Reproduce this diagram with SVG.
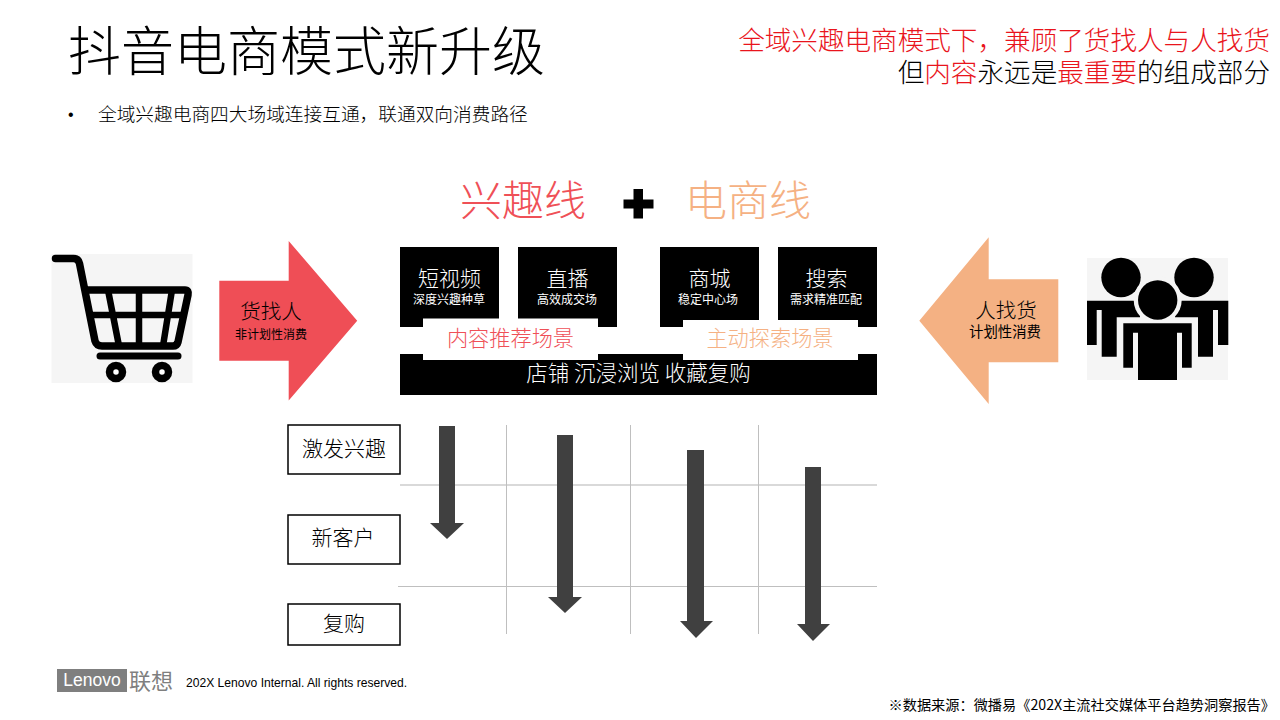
<svg xmlns="http://www.w3.org/2000/svg" width="1280" height="720" viewBox="0 0 1280 720">
<style>
text{font-family:"Noto Sans CJK SC","Liberation Sans",sans-serif;font-weight:300;fill:#000}
.m{text-anchor:middle}
.b{fill:#000}
.w{fill:#fff}
.t{fill:#fff;font-size:21px;text-anchor:middle}
.s{fill:#fff;font-size:12px;text-anchor:middle;font-weight:400}
.r{fill:#e9141c}
.g{stroke:#bfbfbf;stroke-width:1;fill:none}
.a{fill:#404040}
.lb{fill:#fff;stroke:#000;stroke-width:1.5}
.en{font-family:"Liberation Sans",sans-serif;font-weight:400}
</style>
<rect width="1280" height="720" fill="#fff"/>
<text x="68" y="71" font-size="53" id="title">抖音电商模式新升级</text>
<text x="1270" y="50" font-size="26.6" text-anchor="end" class="r">全域兴趣电商模式下，兼顾了货找人与人找货</text>
<text x="1270" y="82" font-size="26.6" text-anchor="end">但<tspan class="r">内容</tspan>永远是<tspan class="r">最重要</tspan>的组成部分</text>
<text x="68" y="120" font-size="16" class="en">•</text>
<text x="98" y="121" font-size="18.700">全域兴趣电商四大场域连接互通，联通双向消费路径</text>
<text x="523" y="216" font-size="42" class="m" style="fill:#ef5057">兴趣线</text>
<path id="plus" d="M633.500 189h9.500v10.500h10.500v9h-10.500v10h-9.500v-10h-10v-9h10z"/>
<text x="748" y="216" font-size="42" class="m" style="fill:#f5b183">电商线</text>
<g id="cart">
<rect x="51.500" y="254" width="141" height="129" fill="#f5f5f5"/>
<path d="M55.500 258.500h18q5 0 6 5L95 341q1.500 5 7 5h71q4 0 5-4l10-47q1-5-3-5H88" fill="none" stroke="#000" stroke-width="7.500" stroke-linecap="round" stroke-linejoin="round"/>
<path d="M88 315h98M108 290l11 56M139 290v56M172 290l-9 56" fill="none" stroke="#000" stroke-width="6.500"/>
<path d="M100 356h78" fill="none" stroke="#000" stroke-width="7" stroke-linecap="round"/>
<circle cx="116" cy="372" r="6.500" fill="#fff" stroke="#000" stroke-width="7.500"/>
<circle cx="162" cy="372" r="6.500" fill="#fff" stroke="#000" stroke-width="7.500"/>
</g>
<g id="push">
<path d="M219.300 280.700h69.400V241l68.500 79.700-68.500 79.700v-39.700h-69.400z" fill="#ef4e56"/>
<text x="271" y="319" font-size="20.500" class="m">货找人</text>
<text x="271" y="339" font-size="12" class="m" style="font-weight:400">非计划性消费</text>
</g>
<g id="pull">
<path d="M1058.300 279.300h-69.600v-42l-69.400 83.400 69.400 83.300v-41.700h69.600z" fill="#f4b183"/>
<text x="1006" y="318" font-size="20.500" class="m">人找货</text>
<text x="1005" y="337" font-size="14.400" class="m" style="font-weight:400">计划性消费</text>
</g>
<g id="people">
<rect x="1087" y="258" width="141" height="122" fill="#f5f5f5"/>
<circle cx="1121" cy="277.500" r="19.700"/>
<circle cx="1194" cy="277.500" r="19.700"/>
<path d="M1087 300.700H1140V317.300H1116.700V356.700H1101.700V310H1096.700V345H1087Z"/>
<path d="M1228.300 300.700H1175V317.300H1198V356.700H1213V310H1218V345H1228.300Z"/>
<circle cx="1157.700" cy="300" r="24" fill="#f5f5f5"/>
<circle cx="1157.700" cy="300" r="19.700"/>
<path d="M1123.300 323.300H1191.700V367.700H1182V332.700H1177V380H1138V332.700H1133V367.700H1123.300Z"/>
</g>
<g id="cards">
<g id="short-video"><rect x="400" y="247" width="99" height="80" class="b"/>
<text x="449.500" y="286" class="t">短视频</text>
<text x="449" y="304" class="s">深度兴趣种草</text></g>
<g id="live"><rect x="518" y="247" width="99" height="80" class="b"/>
<text x="567.500" y="286" class="t">直播</text>
<text x="567" y="304" class="s">高效成交场</text></g>
<g id="mall"><rect x="660" y="247" width="99" height="80" class="b"/>
<text x="709.500" y="286" class="t">商城</text>
<text x="708" y="304" class="s">稳定中心场</text></g>
<g id="search"><rect x="778" y="247" width="99" height="80" class="b"/>
<text x="826.500" y="286" class="t">搜索</text>
<text x="826" y="304" class="s">需求精准匹配</text></g>
<g id="shop"><rect x="400" y="354" width="477" height="41" class="b"/>
<text x="638.500" y="381" class="t" style="font-size:21.500px">店铺 沉浸浏览 收藏复购</text></g>
<g id="scene-a"><rect x="423" y="318.500" width="175" height="41.500" class="w"/>
<text x="510.500" y="346" font-size="21.200" class="m" style="fill:#ef5057">内容推荐场景</text></g>
<g id="scene-b"><rect x="683" y="320" width="175" height="40" class="w"/>
<text x="770" y="346" font-size="21.200" class="m" style="fill:#f5b183">主动探索场景</text></g>
</g>
<g id="connectors">
<path class="g" style="stroke:#d9d9d9;stroke-width:2" d="M400 485H877"/>
<path class="g" d="M398 586.500H877M506.500 425V634M630.500 425V634M758.500 425V634"/>
<path class="a" d="M439 426h16v97h9l-17 16-17-16h9z"/>
<path class="a" d="M557 435h16v162h9l-17 16-17-16h9z"/>
<path class="a" d="M687 450h17v171h9l-17 17-16-17h7z"/>
<path class="a" d="M805 467h16v157h9l-17 17-16-17h8z"/>
</g>
<g id="l1"><rect x="288" y="425" width="112" height="49" class="lb"/><text x="344" y="456" font-size="21" class="m">激发兴趣</text></g>
<g id="l2"><rect x="288" y="515" width="112" height="49" class="lb"/><text x="343" y="545" font-size="21" class="m">新客户</text></g>
<g id="l3"><rect x="288" y="604" width="112" height="41" class="lb"/><text x="344" y="631" font-size="21" class="m">复购</text></g>
<g id="logo">
<rect x="57" y="669" width="70" height="23" fill="#7f7f7f"/>
<text x="92" y="686" font-size="17.500" class="m en" style="fill:#fff">Lenovo</text>
<text x="129" y="689" font-size="22" style="fill:#7f7f7f;font-weight:400">联想</text>
</g>
<text x="186" y="687" font-size="12.100" class="en">202X Lenovo Internal. All rights reserved.</text>
<text x="1275" y="710" font-size="14.200" text-anchor="end" style="font-weight:400">※数据来源：微播易《202X主流社交媒体平台趋势洞察报告》</text>
</svg>
